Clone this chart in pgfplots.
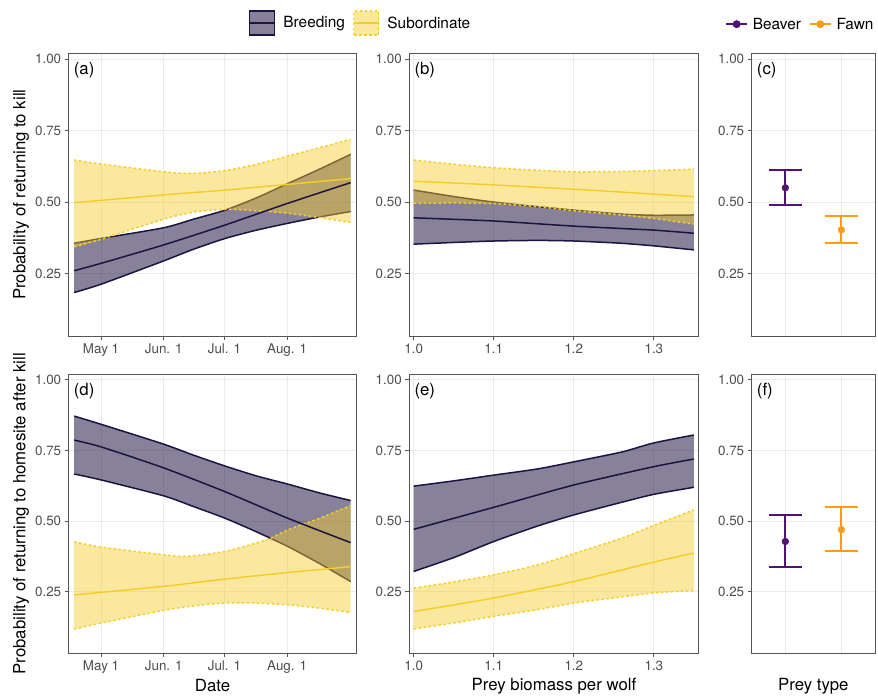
\documentclass[border=0pt]{standalone}
\usepackage{fontspec}
\setmainfont{TeX Gyre Heros}
\usepackage{pgfplots}
\pgfplotsset{compat=1.18}
\usepgfplotslibrary{fillbetween}
\definecolor{bcol}{HTML}{1C1340}
\definecolor{scol}{HTML}{F5CD2A}
\definecolor{beaver}{HTML}{521472}
\definecolor{fawn}{HTML}{F89C1A}
\definecolor{border}{HTML}{555555}
\definecolor{gridcol}{HTML}{EBEBEB}
\definecolor{ticklab}{HTML}{4D4D4D}
\newcommand{\ticksize}{\fontsize{13.4}{16}\selectfont}
\newcommand{\titlesize}{\fontsize{16.8}{20}\selectfont}
\newcommand{\legsize}{\fontsize{15.4}{18}\selectfont}
\tikzset{panlab/.style={anchor=north west, font=\titlesize, inner sep=0pt, xshift=5pt, yshift=-9pt}}
\pgfplotsset{
  layers/mylayers/.define layer set={axis background,axis grid,axis ticks,axis lines,axis tick labels,pre main,fillA,lineA,fillB,main,axis descriptions,axis foreground}{/pgfplots/layers/standard},
  gg/.style={
    scale only axis, anchor=north west,
    set layers=mylayers,
    axis line style={draw=border, line width=1pt},
    tick align=outside, tick pos=left, major tick length=4pt,
    tick style={draw=border, line width=1pt},
    grid=major, major grid style={draw=gridcol, line width=1pt},
    ymin=0.032, ymax=1.02, ytick={0.25,0.5,0.75,1},
    y tick label style={/pgf/number format/fixed, /pgf/number format/fixed zerofill, /pgf/number format/precision=2},
    tick label style={font=\ticksize, text=ticklab},
    /pgf/number format/assume math mode=true,
    every axis y label/.style={at={(axis description cs:-0.166,0.5)}, rotate=90, anchor=center, font=\titlesize},
    every axis x label/.style={at={(axis description cs:0.5,-0.117)}, anchor=center, font=\titlesize},
  },
  datex/.style={xmin=105, xmax=247.2, xtick={121,152,182,213}, xticklabels={May 1, Jun. 1, Jul. 1, Aug. 1}},
  preyx/.style={xmin=0.9945, xmax=1.356, xtick={1.0,1.1,1.2,1.3},
    x tick label style={/pgf/number format/fixed, /pgf/number format/fixed zerofill, /pgf/number format/precision=1}},
  catx/.style={xmin=0.4, xmax=2.6, xtick={1,2}, xticklabels={}, x tick style={draw=none}},
  bline/.style={bcol, line width=1.5pt, smooth, tension=0.4},
  sline/.style={scol, line width=1.5pt, smooth, tension=0.4},
  sdash/.style={scol, line width=1.5pt, dash pattern=on 2.5pt off 2.5pt, smooth, tension=0.4},
  bfill/.style={fill=bcol, fill opacity=0.53, draw=none},
  sfill/.style={fill=scol, fill opacity=0.45, draw=none},
  ebar/.style={line width=1.8pt, forget plot},
  ept/.style={only marks, mark=*, mark size=3.4pt, forget plot},
}
\begin{document}
\begin{tikzpicture}[x=1pt,y=1pt]

% ---------------- (a)
\begin{axis}[gg, datex, at={(68.7pt,-53.3pt)}, width=287.6pt, height=282.7pt,
  ylabel={Probability of returning to kill},
  legend style={at={(axis description cs:0.626,1.107)}, anchor=west, draw=none, fill=none,
    legend columns=2, font=\legsize, inner sep=0pt,
    /tikz/every odd column/.append style={column sep=6pt},
    /tikz/every even column/.append style={column sep=6pt}}]
\addlegendimage{legend image code/.code={
  \draw[fill=bcol, fill opacity=0.53, draw=bcol, line width=1.5pt] (0pt,-12pt) rectangle (25pt,12pt);
  \draw[bcol, line width=1.5pt] (0pt,0pt) -- (25pt,0pt);}}
\addlegendentry{Breeding}
\addlegendimage{legend image code/.code={
  \draw[fill=scol, fill opacity=0.45, draw=scol, line width=1.5pt, dash pattern=on 2.5pt off 2.5pt] (0pt,-12pt) rectangle (25pt,12pt);
  \draw[scol, line width=1.5pt] (0pt,0pt) -- (25pt,0pt);}}
\addlegendentry{Subordinate}
\addplot[bline, on layer=lineA, name path=bU, forget plot] coordinates {(107.7,0.356) (121,0.373) (151.8,0.41) (166.6,0.44) (182.4,0.472) (197.9,0.515) (213.4,0.565) (229,0.615) (244.4,0.667)};
\addplot[bline, on layer=lineA, name path=bL, forget plot] coordinates {(107.7,0.184) (121,0.213) (151.8,0.294) (166.6,0.335) (182.4,0.373) (197.9,0.402) (213.4,0.426) (229,0.448) (244.4,0.467)};
\addplot[bfill, forget plot] fill between[of=bU and bL, on layer=fillA];
\addplot[sdash, name path=sU, forget plot] coordinates {(107.7,0.647) (121,0.633) (151.8,0.606) (166.6,0.60) (182.4,0.61) (197.9,0.632) (213.4,0.661) (229,0.69) (244.4,0.719)};
\addplot[sdash, name path=sL, forget plot] coordinates {(107.7,0.344) (121,0.37) (151.8,0.44) (166.6,0.465) (182.4,0.475) (197.9,0.47) (213.4,0.461) (229,0.446) (244.4,0.429)};
\addplot[sfill, forget plot] fill between[of=sU and sL, on layer=fillB];
\addplot[bline, forget plot] coordinates {(107.7,0.26) (121,0.286) (151.8,0.35) (182.4,0.42) (213.4,0.496) (244.4,0.568)};
\addplot[sline, forget plot] coordinates {(107.7,0.498) (151.8,0.525) (182.4,0.542) (213.4,0.562) (244.4,0.582)};
\node[panlab] at (rel axis cs:0,1) {(a)};
\end{axis}

% ---------------- (b)
\begin{axis}[gg, preyx, at={(409.3pt,-53.3pt)}, width=289.4pt, height=282.7pt]
\addplot[bline, on layer=lineA, name path=bU] coordinates {(1.0,0.542) (1.051,0.519) (1.1,0.50) (1.155,0.484) (1.2,0.472) (1.26,0.458) (1.3,0.454) (1.35,0.455)};
\addplot[bline, on layer=lineA, name path=bL] coordinates {(1.0,0.353) (1.051,0.359) (1.1,0.364) (1.155,0.366) (1.2,0.364) (1.26,0.356) (1.3,0.347) (1.35,0.333)};
\addplot[bfill] fill between[of=bU and bL, on layer=fillA];
\addplot[sdash, name path=sU] coordinates {(1.0,0.647) (1.051,0.632) (1.1,0.620) (1.155,0.611) (1.2,0.606) (1.26,0.607) (1.3,0.610) (1.35,0.615)};
\addplot[sdash, name path=sL] coordinates {(1.0,0.496) (1.051,0.497) (1.1,0.495) (1.155,0.484) (1.2,0.47) (1.26,0.455) (1.3,0.443) (1.35,0.423)};
\addplot[sfill] fill between[of=sU and sL, on layer=fillB];
\addplot[bline] coordinates {(1.0,0.445) (1.1,0.434) (1.2,0.416) (1.3,0.402) (1.35,0.391)};
\addplot[sline] coordinates {(1.0,0.573) (1.1,0.56) (1.2,0.545) (1.3,0.528) (1.35,0.519)};
\node[panlab] at (rel axis cs:0,1) {(b)};
\end{axis}

% ---------------- (c)
\begin{axis}[gg, catx, at={(751.7pt,-53.3pt)}, width=123.3pt, height=282.7pt,
  legend style={at={(axis description cs:-0.215,1.103)}, anchor=west, draw=none, fill=none,
    legend columns=2, font=\legsize, inner sep=0pt,
    /tikz/every odd column/.append style={column sep=3pt},
    /tikz/every even column/.append style={column sep=6pt}},
  legend image code/.code={\draw[mark repeat=2, mark phase=2, #1] plot coordinates {(0pt,0pt) (10.5pt,0pt) (21pt,0pt)};}]
\addlegendimage{beaver, line width=1.5pt, mark=*, mark size=3.2pt}
\addlegendentry{Beaver}
\addlegendimage{fawn, line width=1.5pt, mark=*, mark size=3.2pt}
\addlegendentry{Fawn}
\addplot[ebar, beaver] coordinates {(0.702,0.611) (1.298,0.611)};
\addplot[ebar, beaver] coordinates {(1,0.611) (1,0.489)};
\addplot[ebar, beaver] coordinates {(0.702,0.489) (1.298,0.489)};
\addplot[ept, beaver] coordinates {(1,0.55)};
\addplot[ebar, fawn] coordinates {(1.702,0.45) (2.298,0.45)};
\addplot[ebar, fawn] coordinates {(2,0.45) (2,0.357)};
\addplot[ebar, fawn] coordinates {(1.702,0.357) (2.298,0.357)};
\addplot[ept, fawn] coordinates {(2,0.403)};
\node[panlab] at (rel axis cs:0,1) {(c)};
\end{axis}

% ---------------- (d)
\begin{axis}[gg, datex, at={(68.7pt,-374.3pt)}, width=287.6pt, height=279pt,
  ylabel={Probability of returning to homesite after kill}, xlabel={Date}]
\addplot[bline, on layer=lineA, name path=bU] coordinates {(107.7,0.872) (121,0.843) (151.8,0.773) (166.6,0.734) (182.4,0.695) (197.9,0.66) (213.4,0.631) (229,0.60) (244.4,0.573)};
\addplot[bline, on layer=lineA, name path=bL] coordinates {(107.7,0.667) (121,0.646) (151.8,0.59) (166.6,0.552) (182.4,0.51) (197.9,0.462) (213.4,0.41) (229,0.35) (244.4,0.286)};
\addplot[bfill] fill between[of=bU and bL, on layer=fillA];
\addplot[sdash, name path=sU] coordinates {(107.7,0.427) (121,0.408) (151.8,0.381) (163.3,0.375) (182.4,0.393) (202.9,0.434) (213.4,0.469) (229,0.51) (244.4,0.555)};
\addplot[sdash, name path=sL] coordinates {(107.7,0.118) (121,0.139) (151.8,0.184) (166.6,0.2) (182.4,0.21) (197.9,0.21) (213.4,0.204) (229,0.192) (244.4,0.177)};
\addplot[sfill] fill between[of=sU and sL, on layer=fillB];
\addplot[bline] coordinates {(107.7,0.787) (121,0.763) (151.8,0.689) (182.4,0.604) (213.4,0.51) (244.4,0.424)};
\addplot[sline] coordinates {(107.7,0.239) (151.8,0.269) (182.4,0.295) (213.4,0.318) (244.4,0.339)};
\node[panlab] at (rel axis cs:0,1) {(d)};
\end{axis}

% ---------------- (e)
\begin{axis}[gg, preyx, at={(409.3pt,-374.3pt)}, width=289.4pt, height=279pt,
  xlabel={Prey biomass per wolf}]
\addplot[bline, on layer=lineA, name path=bU] coordinates {(1.0,0.624) (1.051,0.643) (1.1,0.663) (1.155,0.685) (1.2,0.71) (1.26,0.745) (1.3,0.777) (1.35,0.805)};
\addplot[bline, on layer=lineA, name path=bL] coordinates {(1.0,0.322) (1.051,0.372) (1.1,0.428) (1.155,0.483) (1.2,0.522) (1.26,0.567) (1.3,0.595) (1.35,0.62)};
\addplot[bfill] fill between[of=bU and bL, on layer=fillA];
\addplot[sdash, name path=sU] coordinates {(1.0,0.263) (1.051,0.285) (1.1,0.31) (1.155,0.345) (1.2,0.385) (1.26,0.44) (1.3,0.485) (1.35,0.54)};
\addplot[sdash, name path=sL] coordinates {(1.0,0.118) (1.051,0.14) (1.1,0.163) (1.155,0.187) (1.2,0.21) (1.26,0.232) (1.3,0.246) (1.35,0.254)};
\addplot[sfill] fill between[of=sU and sL, on layer=fillB];
\addplot[bline] coordinates {(1.0,0.471) (1.1,0.549) (1.2,0.628) (1.3,0.693) (1.35,0.72)};
\addplot[sline] coordinates {(1.0,0.18) (1.1,0.228) (1.2,0.286) (1.3,0.355) (1.35,0.387)};
\node[panlab] at (rel axis cs:0,1) {(e)};
\end{axis}

% ---------------- (f)
\begin{axis}[gg, catx, at={(751.7pt,-374.3pt)}, width=123.3pt, height=279pt,
  xlabel={Prey type}]
\addplot[ebar, beaver] coordinates {(0.702,0.521) (1.298,0.521)};
\addplot[ebar, beaver] coordinates {(1,0.521) (1,0.339)};
\addplot[ebar, beaver] coordinates {(0.702,0.339) (1.298,0.339)};
\addplot[ept, beaver] coordinates {(1,0.428)};
\addplot[ebar, fawn] coordinates {(1.702,0.549) (2.298,0.549)};
\addplot[ebar, fawn] coordinates {(2,0.549) (2,0.394)};
\addplot[ebar, fawn] coordinates {(1.702,0.394) (2.298,0.394)};
\addplot[ept, fawn] coordinates {(2,0.47)};
\node[panlab] at (rel axis cs:0,1) {(f)};
\end{axis}
\pgfresetboundingbox
\path[use as bounding box] (0,0) rectangle (878,-696);
\end{tikzpicture}
\end{document}
